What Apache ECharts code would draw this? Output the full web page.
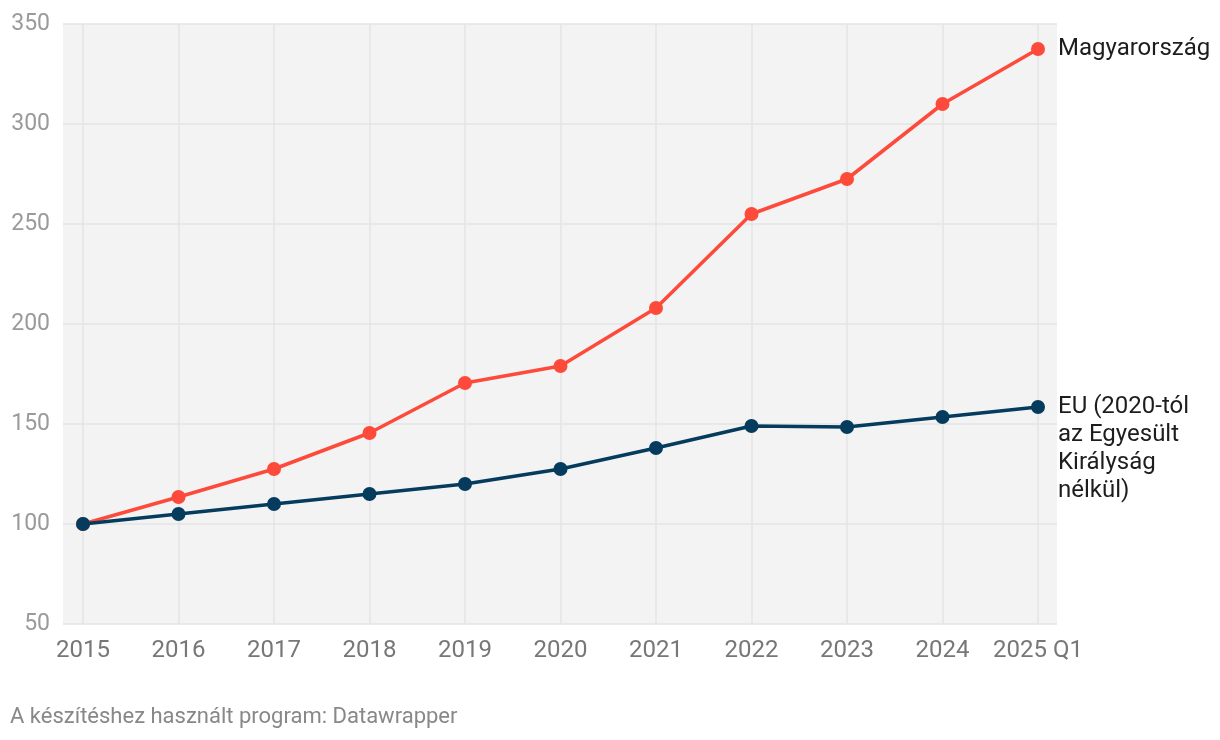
<!DOCTYPE html>
<html><head><meta charset="utf-8">
<script src="https://cdn.jsdelivr.net/npm/echarts@6/dist/echarts.min.js"></script>
<style>html,body{margin:0;padding:0;background:#fff}#c{width:1220px;height:740px}</style>
</head><body><div id="c"></div>
<script>
const categories = ['2015','2016','2017','2018','2019','2020','2021','2022','2023','2024','2025 Q1'];
const hungary = [100, 113.5, 127.5, 145.5, 170.5, 179, 208, 255, 272.5, 310, 337.5];
const eu = [100, 105, 110, 115, 120, 127.5, 138, 149, 148.5, 153.5, 158.5];
const hungaryName = 'Magyarország';
const euName = 'EU (2020-tól\naz Egyesült\nKirályság\nnélkül)';
const yTicks = [50, 350, 50]; // min, max, interval

const chart = echarts.init(document.getElementById('c'));
const font = 'Roboto';
function lastLabel(arr, opts) {
  return arr.map((v, i) => i === arr.length - 1 ? {value: v, label: Object.assign({show: true, position: 'right', distance: 13, fontFamily: font, fontSize: 24, color: '#1d1d1d', formatter: p => p.seriesName}, opts)} : v);
}
chart.setOption({
  animation: false,
  textStyle: {fontFamily: font},
  grid: [
    {left: 63, right: 163, top: 24, bottom: 116, show: true, backgroundColor: '#f3f3f3', borderWidth: 0},
    {left: 83, right: 182, top: 24, bottom: 116}
  ],
  xAxis: [
    {gridIndex: 0, type: 'value', min: 0, max: 1, show: false},
    {gridIndex: 1, type: 'category', data: categories, boundaryGap: false,
     axisLine: {show: false}, axisTick: {show: false},
     axisLabel: {color: '#777', fontSize: 24, fontFamily: font, margin: 15, interval: 0},
     splitLine: {show: true, interval: 0, lineStyle: {color: '#e4e4e4', width: 1.5}}}
  ],
  yAxis: [
    {gridIndex: 0, type: 'value', min: yTicks[0], max: yTicks[1], interval: yTicks[2],
     axisLine: {show: false}, axisTick: {show: false},
     axisLabel: {color: '#9a9a9a', fontSize: 23, fontFamily: font, margin: 13},
     splitLine: {show: true, lineStyle: {color: '#e4e4e4', width: 1.5}}},
    {gridIndex: 1, type: 'value', min: yTicks[0], max: yTicks[1], interval: yTicks[2], show: false}
  ],
  series: [
    {name: euName, type: 'line', xAxisIndex: 1, yAxisIndex: 1, data: lastLabel(eu, {verticalAlign: 'top', offset: [0, -14], lineHeight: 28}),
     symbol: 'circle', symbolSize: 14, lineStyle: {color: '#053c5e', width: 3.5}, itemStyle: {color: '#053c5e'}, z: 2},
    {name: hungaryName, type: 'line', xAxisIndex: 1, yAxisIndex: 1, data: lastLabel(hungary, {}),
     symbol: 'circle', symbolSize: 14, lineStyle: {color: '#fd4a3b', width: 3.5}, itemStyle: {color: '#fd4a3b'}, z: 1}
  ],
  graphic: [
    {type: 'text', left: 10, top: 706, style: {text: 'A készítéshez használt program: Datawrapper', fontFamily: font, fontSize: 22, fill: '#888'}}
  ]
});
</script></body></html>
